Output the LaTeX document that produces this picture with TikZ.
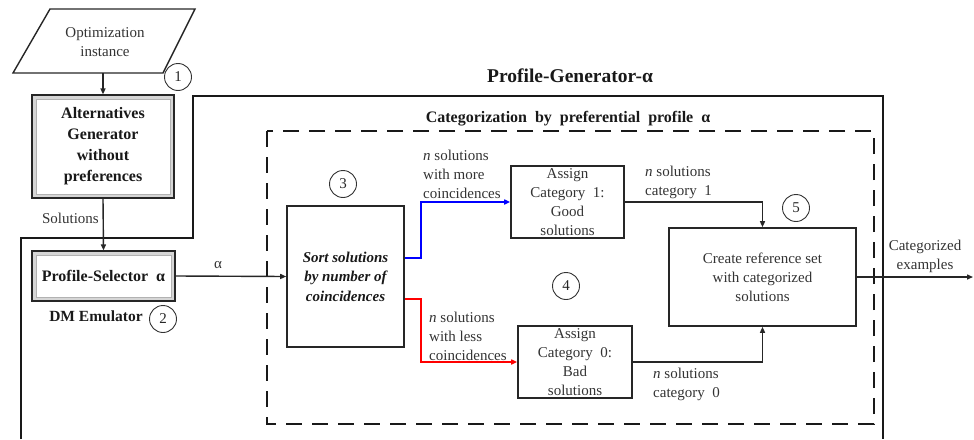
\documentclass[tikz,border=0pt]{standalone}
\usepackage{fontspec}
\setmainfont{LiberationSerif}[Extension=.ttf, UprightFont=*-Regular, BoldFont=*-Bold,
  ItalicFont=*-Italic, BoldItalicFont=*-BoldItalic, Ligatures=TeX]
\usetikzlibrary{arrows.meta}
\begin{document}
\begin{tikzpicture}[x=1pt,y=-1pt,
  txt/.style={font=\rmfamily\fontsize{15}{19}\selectfont, text=black!80, align=center, inner sep=0pt},
  ltxt/.style={txt, align=left},
  btxt/.style={font=\rmfamily\fontsize{16}{21}\selectfont\bfseries, text=black!90, align=center, inner sep=0pt},
  box/.style={draw=black!85, line width=1.6pt, inner sep=0pt},
  bevel/.style={draw=black!85, line width=1.2pt, inner sep=0pt, fill=gray!32,
    path picture={\filldraw[fill=white, draw=gray!60, line width=0.5pt]
      ([xshift=4pt,yshift=-4pt]path picture bounding box.north west) rectangle
      ([xshift=-4pt,yshift=4pt]path picture bounding box.south east);}},
  num/.style={circle, draw=black!80, line width=0.9pt, minimum size=27pt, inner sep=0pt,
    font=\rmfamily\fontsize{15}{15}\selectfont, text=black!85},
  conn/.style={line width=1.4pt, draw=black!85},
  tip/.style={-{Triangle[length=6pt,width=5pt]}},
]
\useasboundingbox (0,0) rectangle (974,439);

% outer frame of the Profile-Generator-alpha block
\draw[line width=2.2pt, black!90] (21,439) -- (21,238) -- (193,238) -- (193,96) -- (883,96) -- (883,439);
\node[font=\rmfamily\fontsize{19.5}{23}\selectfont\bfseries, text=black!90] (title) at (570,76) {Profile-Generator-α};

% dashed categorization block
\draw[line width=2.2pt, black!90, dash pattern=on 16pt off 10pt] (267,131) rectangle (874,424);
\node[btxt] (cattitle) at (568,119) {Categorization\ \ by\ \ preferential\ \ profile\ \ α};

% input parallelogram
\coordinate (p1) at (50,9);
\coordinate (p2) at (195,9);
\coordinate (p3) at (163,73);
\coordinate (p4) at (13,73);
\coordinate (optb) at (103,73);
\draw[line width=1.4pt, black!85] (p1) -- (p2) -- (p3) -- (p4) -- cycle;
\node[txt] (opt) at (105,42.5) {Optimization\\instance};
\node[num] (c1) at (178,77) {1};

% alternatives generator and profile selector
\node[bevel, minimum width=142pt, minimum height=103pt] (alt) at (103,146.5) {};
\node[btxt] (altt) at (alt.center) {Alternatives\\Generator\\without\\preferences};
\node[bevel, minimum width=143pt, minimum height=50pt] (ps) at (103.5,276) {};
\node[btxt] (pst) at (ps.center) {Profile-Selector\ \ α};
\node[font=\rmfamily\fontsize{15.5}{19}\selectfont\bfseries, text=black!90] (dm) at (96,316) {DM Emulator};
\node[num] (c2) at (163,319) {2};

\draw[conn, tip] (optb) -- (alt.north);
\draw[conn, tip] (alt.south) -- (ps.north);
\node[txt, anchor=east] (soll) at (99,218) {Solutions};

% sorting step
\node[box, minimum width=117pt, minimum height=141pt] (sort) at (345.5,276.5) {};
\node[txt, font=\rmfamily\fontsize{15}{19.5}\selectfont\bfseries\itshape, text=black!90] (sortt) at (sort.center) {Sort solutions\\by number of\\coincidences};
\node[num] (c3) at (343,184) {3};
\draw[conn, tip] (ps.east) -- (sort.west);
\node[txt] (alab) at (218,265) {α};

% category assignment
\node[box, minimum width=113pt, minimum height=72pt] (a1) at (567.5,202) {};
\node[txt] (a1t) at (a1.center) {Assign\\Category\ \ 1:\\Good\\solutions};
\node[box, minimum width=114pt, minimum height=72pt] (a0) at (575,362) {};
\node[txt] (a0t) at (a0.center) {Assign\\Category\ \ 0:\\Bad\\solutions};
\node[num] (c4) at (566,286) {4};

\draw[line width=1.8pt, blue, tip] ([yshift=18.5pt]sort.east) -- ++(16pt,0) |- (a1.west);
\draw[line width=1.8pt, red, tip] ([yshift=-22.5pt]sort.east) -- ++(16pt,0) |- (a0.west);
\node[ltxt, anchor=north west] (more) at (423,150) {\textit{n} solutions\\with more\\coincidences};
\node[ltxt, anchor=north west] (less) at (429,312) {\textit{n} solutions\\with less\\coincidences};

% reference set
\node[box, minimum width=187pt, minimum height=98pt] (cr) at (762.5,277) {};
\node[txt] (crt) at (cr.center) {Create\ reference\ set\\with\ categorized\\solutions};
\node[num] (c5) at (796,208) {5};

\draw[conn, tip] (a1.east) -| (cr.north);
\draw[conn, tip] (a0.east) -| (cr.south);
\node[ltxt, anchor=north west] (cat1) at (645,166) {\textit{n} solutions\\category\ \ 1};
\node[ltxt, anchor=north west] (cat0) at (653,368) {\textit{n} solutions\\category\ \ 0};

% output
\coordinate (out) at (973,277);
\draw[conn, tip] (cr.east) -- (out);
\node[txt] (outl) at (925,256) {Categorized\\examples};
\end{tikzpicture}
\end{document}
